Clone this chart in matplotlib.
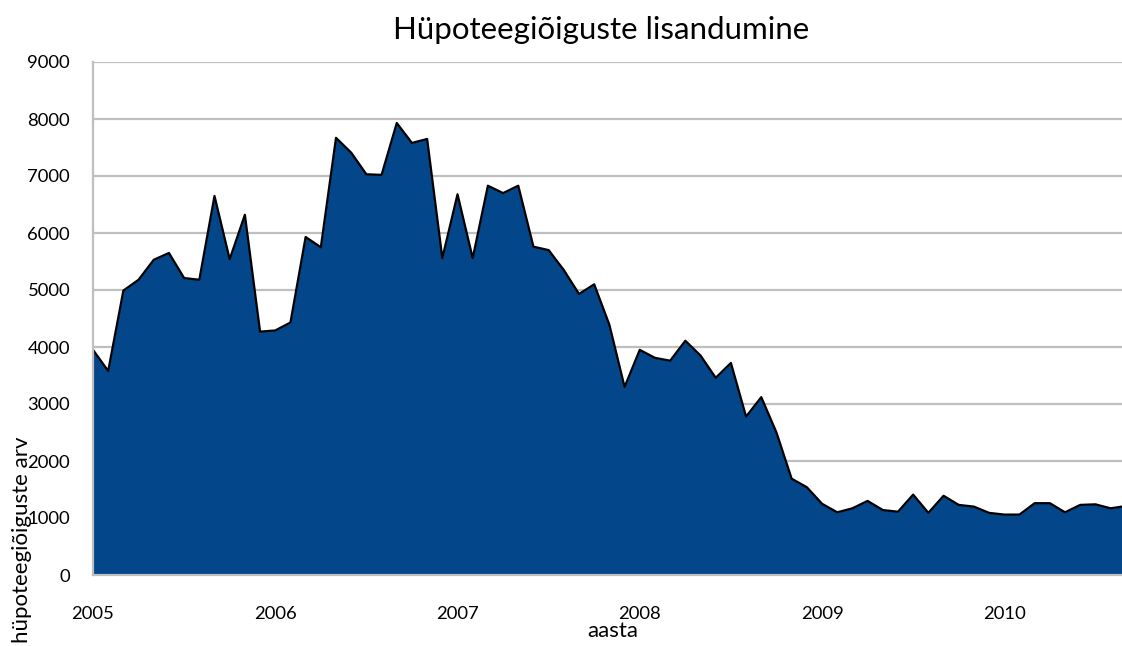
import matplotlib
matplotlib.use("Agg")
import matplotlib.pyplot as plt
import numpy as np

title = "Hüpoteegiõiguste lisandumine"
xlabel = "aasta"
ylabel = "hüpoteegiõiguste arv"
years = [2005, 2006, 2007, 2008, 2009, 2010]
yticks = [0, 1000, 2000, 3000, 4000, 5000, 6000, 7000, 8000, 9000]

# monthly values, Jan 2005 .. Sep 2010
values = [
    3950, 3580, 4990, 5180, 5530, 5650, 5210, 5180, 6650, 5540, 6320, 4270,
    4290, 4430, 5930, 5750, 7670, 7410, 7030, 7020, 7930, 7580, 7650, 5560,
    6680, 5560, 6830, 6700, 6830, 5760, 5700, 5350, 4930, 5100, 4390, 3300,
    3950, 3810, 3760, 4110, 3850, 3460, 3720, 2780, 3120, 2500, 1690, 1540,
    1250, 1100, 1170, 1300, 1140, 1110, 1410, 1090, 1390, 1230, 1200, 1090,
    1060, 1060, 1260, 1260, 1100, 1230, 1240, 1170, 1210,
]

plt.rcParams['font.family'] = ['Lato', 'DejaVu Sans']

fig = plt.figure(figsize=(11.22, 6.46), dpi=100)
ax = fig.add_axes([93/1122, 1-575/646, 1-93/1122, (575-62)/646])

x = np.arange(len(values))
ax.fill_between(x, 0, values, color='#03468A', linewidth=0, zorder=3)
ax.plot(x, values, color='black', linewidth=1.6, zorder=4)

ax.set_xlim(0, 67.75)
ax.set_ylim(0, 9000)
ax.set_yticks(yticks)
ax.set_yticklabels([str(v) for v in yticks])
ax.set_xticks([(y - 2005) * 12 for y in years])
ax.set_xticklabels([str(y) for y in years])
ax.tick_params(axis='both', length=0, labelsize=13.3, colors='black')
ax.tick_params(axis='y', pad=16.5)
ax.tick_params(axis='x', pad=22.5)
ax.grid(axis='y', color='#bfbfbf', linewidth=1.6, zorder=1)
ax.set_axisbelow(True)
for s in ['top', 'right']:
    ax.spines[s].set_visible(False)
for s in ['left', 'bottom']:
    ax.spines[s].set_color('#bfbfbf')
    ax.spines[s].set_linewidth(1.6)
    ax.spines[s].set_zorder(5)

fig.text(601/1122, 1-30/646, title, ha='center', va='center', fontsize=22.5)
fig.text(613/1122, 1-631/646, xlabel, ha='center', va='center', fontsize=16)
fig.text(22/1122, 1-540/646, ylabel, ha='center', va='center', rotation=90, fontsize=16)

fig.savefig('out.png', dpi=100)
